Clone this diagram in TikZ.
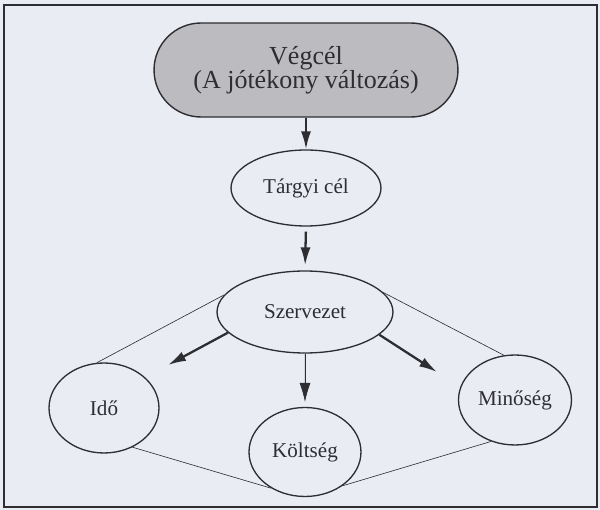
\documentclass[tikz,border=0pt]{standalone}
\usepackage{fontspec}
\setmainfont{Liberation Serif}
\usetikzlibrary{shapes.geometric, shapes.misc}
\usetikzlibrary{arrows.meta}

\definecolor{paper}{RGB}{233,236,243}
\definecolor{ink}{RGB}{45,45,50}
\definecolor{goalfill}{RGB}{188,188,192}

\begin{document}
\begin{tikzpicture}[x=0.02cm, y=-0.02cm]
	\tikzstyle{goal}=[rounded rectangle, draw=ink, line width=0.8pt, fill=goalfill, text=ink, inner sep=0pt, minimum width=6.08cm, minimum height=1.88cm, align=center, font=\fontsize{14.8}{13.6}\selectfont]
	\tikzstyle{oval}=[ellipse, draw=ink, line width=0.75pt, fill=paper, text=ink, inner sep=0pt, font=\fontsize{12}{14}\selectfont]
	\tikzstyle{flow}=[-{Latex[length=3.6mm,width=2mm]}, draw=ink, fill=ink, line width=1.3pt]
	\tikzstyle{link}=[draw=ink, line width=0.35pt]

	% frame
	\fill[paper] (0,0) rectangle (600,510);
	\useasboundingbox (0,0) rectangle (600,510);
	\draw[ink, line width=0.8pt] (4,5) rectangle (597,507);

	\node (vegcel) [goal] at (306,70) {Végcél\\(A jótékony változás)};
	\node (targy) [oval, minimum width=3.0cm, minimum height=1.52cm] at (306,188) {Tárgyi cél};
	\node (szerv) [oval, minimum width=3.52cm, minimum height=1.64cm] at (305,312) {Szervezet};
	\node (ido) [oval, minimum width=2.2cm, minimum height=1.8cm] at (104,408) {Idő};
	\node (koltseg) [oval, minimum width=2.24cm, minimum height=1.78cm] at (305,452) {Költség};
	\node (minoseg) [oval, minimum width=2.26cm, minimum height=1.8cm] at (515,400) {Minőség};

	\coordinate (idotip) at (168,365);
	\coordinate (mintip) at (437,372);

	% diamond of thin lines
	\draw[link] (szerv.168) -- (ido.99);
	\draw[link] (szerv.14) -- (minoseg.104);
	\draw[link] (ido.-54) -- (koltseg.-133);
	\draw[link] (koltseg.-42) -- (minoseg.-120);

	% arrows
	\draw[flow] (vegcel.south) -- (targy.north);
	\draw[flow, shorten <=1mm, shorten >=1mm] (targy.south) -- (szerv.north);
	\draw[flow] (szerv.195) -- (idotip);
	\draw[flow] (szerv.-17) -- (mintip);
	\draw[flow, line width=0.35pt, -{Latex[length=3.8mm,width=2.2mm]}, shorten >=1mm] (szerv.south) -- (koltseg.north);
\end{tikzpicture}
\end{document}
